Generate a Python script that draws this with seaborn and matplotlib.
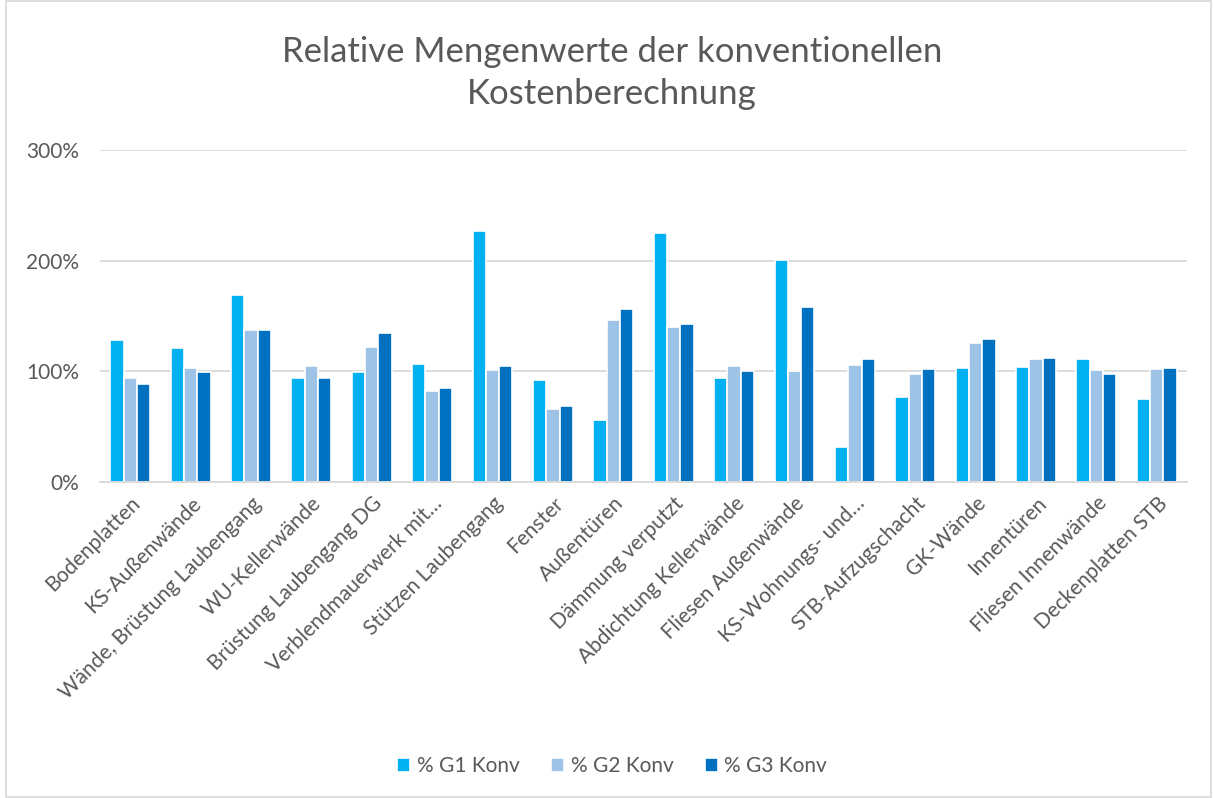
import pandas as pd
import matplotlib.pyplot as plt
import seaborn as sns
from matplotlib.ticker import PercentFormatter
from matplotlib.patches import Rectangle

categories = [
    "Bodenplatten", "KS-Außenwände", "Wände, Brüstung Laubengang", "WU-Kellerwände",
    "Brüstung Laubengang DG", "Verblendmauerwerk mit…", "Stützen Laubengang", "Fenster",
    "Außentüren", "Dämmung verputzt", "Abdichtung Kellerwände", "Fliesen Außenwände",
    "KS-Wohnungs- und…", "STB-Aufzugschacht", "GK-Wände", "Innentüren",
    "Fliesen Innenwände", "Deckenplatten STB",
]
g1 = [128, 121, 169, 94, 99, 107, 227, 92, 56, 225, 94, 201, 32, 77, 103, 104, 111, 75]
g2 = [94, 103, 137, 105, 122, 82, 101, 66, 146, 140, 105, 100, 106, 98, 126, 111, 101, 102]
g3 = [89, 99, 137, 94, 135, 85, 105, 69, 156, 143, 100, 158, 111, 102, 129, 112, 98, 103]
series = ["% G1 Konv", "% G2 Konv", "% G3 Konv"]
colors = ["#00B0F0", "#9DC3E6", "#0070C0"]

df = pd.DataFrame({
    "Kategorie": categories * 3,
    "Wert": g1 + g2 + g3,
    "Serie": [series[0]] * 18 + [series[1]] * 18 + [series[2]] * 18,
})

sns.set_style("white")
plt.rcParams["font.family"] = ["Lato", "DejaVu Sans"]
txt = "#595959"

fig = plt.figure(figsize=(12.13, 7.98), dpi=100)
ax = fig.add_axes([100 / 1213, 1 - 482 / 798, 1087 / 1213, 332 / 798])

sns.barplot(
    data=df, x="Kategorie", y="Wert", hue="Serie", order=categories,
    hue_order=series, palette=colors, saturation=1, width=0.66,
    edgecolor="white", linewidth=1.2, ax=ax,
)

ax.set_ylim(0, 300)
ax.set_xlim(-0.5, 17.5)
ax.set_yticks([0, 100, 200, 300])
ax.yaxis.set_major_formatter(PercentFormatter(decimals=0))
ax.yaxis.grid(True, color="#D9D9D9", linewidth=1.3)
ax.set_axisbelow(True)
for s in ["top", "right", "left"]:
    ax.spines[s].set_visible(False)
ax.spines["bottom"].set_color("#D9D9D9")
ax.spines["bottom"].set_linewidth(1.3)
ax.tick_params(axis="both", length=0, labelsize=15, labelcolor=txt)
ax.tick_params(axis="y", pad=15)
ax.set_xticks(range(len(categories)))
ax.set_xticklabels(categories, rotation=45, ha="right", rotation_mode="anchor")
ax.tick_params(axis="x", pad=8)
ax.set_xlabel("")
ax.set_ylabel("")

ax.legend(
    loc="center", bbox_to_anchor=(612 / 1213, 1 - 766 / 798),
    bbox_transform=fig.transFigure, ncol=3, frameon=False, fontsize=15,
    labelcolor=txt, handlelength=0.65, handleheight=0.65, handletextpad=0.3,
    columnspacing=1.5,
)

fig.text(
    612 / 1213, 1 - 73 / 798,
    "Relative Mengenwerte der konventionellen\nKostenberechnung",
    ha="center", va="center", fontsize=25, color=txt, linespacing=1.35,
)

fig.patches.append(Rectangle(
    (6 / 1213, 1 / 798), 1205 / 1213, 796 / 798, transform=fig.transFigure,
    fill=False, edgecolor="#D9D9D9", linewidth=1.2,
))

fig.savefig("out.png", dpi=100)
